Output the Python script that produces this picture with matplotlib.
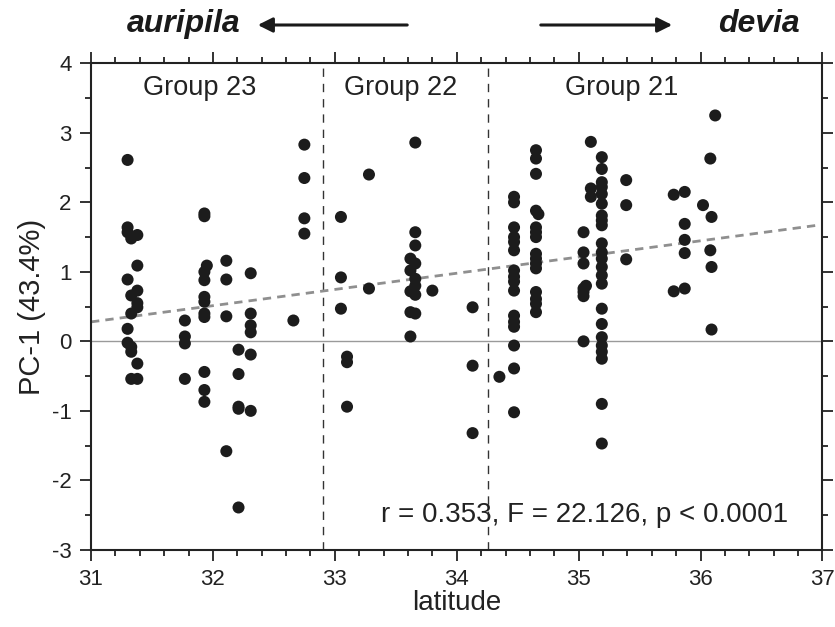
import matplotlib.pyplot as plt
from matplotlib.patches import FancyArrowPatch
import numpy as np

plt.rcParams['font.family'] = ['Liberation Sans', 'DejaVu Sans']
plt.rcParams['axes.unicode_minus'] = False

# ============================================================
# Data (latitude, PC-1 score)
# ============================================================

lat_g23 = [31.30] * 6 + [31.33] * 6 + [31.38] * 7 + [31.77] * 4 + [31.93] * 11 + [31.95] \
    + [32.11] * 4 + [32.21] * 5 + [32.31] * 6 + [32.66] + [32.75] * 4
pc1_g23 = [2.61, 1.64, 1.57, 0.89, 0.18, -0.02,
           1.48, 0.66, 0.40, -0.08, -0.15, -0.54,
           1.53, 1.09, 0.73, 0.55, 0.49, -0.32, -0.54,
           0.30, 0.07, -0.03, -0.54,
           1.84, 1.80, 1.00, 0.88, 0.64, 0.57, 0.40, 0.35, -0.44, -0.70, -0.87,
           1.09,
           1.16, 0.89, 0.36, -1.58,
           -0.12, -0.47, -0.94, -0.97, -2.39,
           0.98, 0.40, 0.23, 0.13, -0.19, -1.00,
           0.30,
           2.83, 2.35, 1.77, 1.55]

lat_g22 = [33.05] * 3 + [33.10] * 3 + [33.28] * 2 + [33.62] * 5 + [33.66] * 8 + [33.80] + [34.13] * 3
pc1_g22 = [1.79, 0.92, 0.47,
           -0.22, -0.30, -0.94,
           2.40, 0.76,
           1.19, 1.02, 0.72, 0.42, 0.07,
           2.86, 1.57, 1.38, 1.12, 0.90, 0.80, 0.67, 0.40,
           0.73,
           0.49, -0.35, -1.32]

lat_g21 = [34.35] + [34.47] * 16 + [34.65] * 15 + [34.67] + [35.04] * 7 + [35.06] + [35.10] * 3 \
    + [35.19] * 23 + [35.39] * 3 + [35.78] * 2 + [35.87] * 5 + [36.02] + [36.08] * 2 + [36.09] * 3 + [36.12]
pc1_g21 = [-0.51,
           2.08, 2.00, 1.64, 1.50, 1.43, 1.31, 1.02, 0.93, 0.86, 0.73, 0.37, 0.28, 0.21, -0.06, -0.39, -1.02,
           2.75, 2.63, 2.41, 1.88, 1.64, 1.57, 1.50, 1.26, 1.19, 1.12, 1.05, 0.71, 0.61, 0.54, 0.42,
           1.83,
           1.57, 1.28, 1.12, 0.76, 0.71, 0.65, 0.00,
           0.80,
           2.87, 2.20, 2.08,
           2.65, 2.48, 2.29, 2.22, 2.12, 1.98, 1.81, 1.74, 1.67, 1.41, 1.28, 1.19, 1.07, 0.95, 0.83,
           0.47, 0.25, 0.06, -0.06, -0.15, -0.25, -0.90, -1.47,
           2.32, 1.96, 1.18,
           2.11, 0.72,
           2.15, 1.69, 1.46, 1.27, 0.76,
           1.96,
           2.63, 1.31,
           1.79, 1.07, 0.17,
           3.25]

group_names = ["Group 23", "Group 22", "Group 21"]
group_label_x = [31.89, 33.54, 35.35]
group_bounds = [32.90, 34.26]

fit_lat = [31.0, 37.0]
fit_pc1 = [0.28, 1.68]

stats_text = "r = 0.353, F = 22.126, p < 0.0001"

# ============================================================
# Plot
# ============================================================

fig = plt.figure(figsize=(8.35, 6.27), dpi=100)
ax = fig.add_axes([0.109, 0.123, 0.876, 0.776])

lat_all = np.array(lat_g23 + lat_g22 + lat_g21)
pc1_all = np.array(pc1_g23 + pc1_g22 + pc1_g21)

ax.axhline(0, color="#9a9a9a", linewidth=1.0, zorder=1)
for b in group_bounds:
    ax.axvline(b, color="#333333", linewidth=1.0, linestyle=(0, (6, 5)), zorder=1)
ax.plot(fit_lat, fit_pc1, color="#8f8f8f", linewidth=2.0, linestyle=(0, (3, 2.2)), zorder=2)

ax.scatter(lat_all, pc1_all, s=75, color="#1c1c1c", edgecolors="none", zorder=3)

for name, gx in zip(group_names, group_label_x):
    ax.text(gx, 3.64, name, ha="center", va="center", fontsize=19.5, color="#222222")

ax.text(36.72, -2.5, stats_text, ha="right", va="center", fontsize=20, color="#222222")

ax.set_xlim(31, 37)
ax.set_ylim(-3, 4)
ax.set_xticks(np.arange(31, 38, 1))
ax.set_yticks(np.arange(-3, 5, 1))
ax.set_xticks(np.arange(31, 37.01, 0.2), minor=True)
ax.set_yticks(np.arange(-3, 4.01, 0.5), minor=True)

ax.tick_params(which="both", direction="out", top=True, right=True,
               labeltop=False, labelright=False, width=1.3, color="#222222")
ax.tick_params(which="major", length=8, labelsize=16, pad=6, labelcolor="#222222")
ax.tick_params(which="minor", length=4)

for sp in ax.spines.values():
    sp.set_linewidth(1.5)
    sp.set_color("#222222")

ax.set_xlabel("latitude", fontsize=20, color="#222222", labelpad=0)
ax.set_ylabel("PC-1 (43.4%)", fontsize=21, color="#222222", labelpad=4)

# species direction labels
fig.text(183.5 / 835, 1 - 24 / 627, "auripila", ha="center", va="center",
         fontsize=23, fontweight="bold", style="italic", color="#1a1a1a")
fig.text(759 / 835, 1 - 24 / 627, "devia", ha="center", va="center",
         fontsize=23, fontweight="bold", style="italic", color="#1a1a1a")
fig.add_artist(FancyArrowPatch(
    (410 / 835, 1 - 25 / 627), (255 / 835, 1 - 25 / 627), transform=fig.transFigure,
    arrowstyle="-|>", mutation_scale=22, linewidth=2.2, color="#1a1a1a"))
fig.add_artist(FancyArrowPatch(
    (538 / 835, 1 - 25 / 627), (675 / 835, 1 - 25 / 627), transform=fig.transFigure,
    arrowstyle="-|>", mutation_scale=22, linewidth=2.2, color="#1a1a1a"))

fig.savefig("out.png", dpi=100, facecolor="white")
